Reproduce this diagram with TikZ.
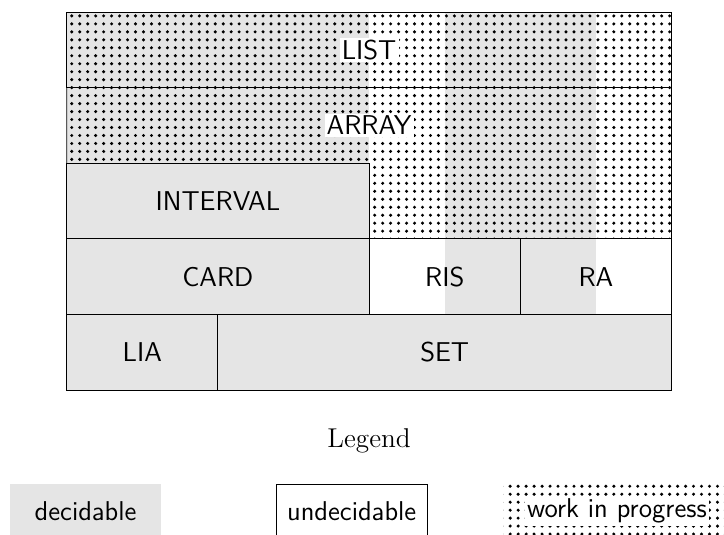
\documentclass[tikz,border=0pt]{standalone}
\usepackage{tikz}
\usetikzlibrary{positioning}
\usetikzlibrary{patterns.meta}
\usetikzlibrary{backgrounds}
\colorlet{decgray}{gray!20}
\newcommand{\cellfont}{\fontsize{12.8}{15.4}\selectfont}
\tikzdeclarepattern{
	name=wipdots,
	type=uncolored,
	bounding box={(-1.875pt,-1.875pt) and (1.875pt,1.875pt)},
	tile size={(3.75pt,3.75pt)},
	code={\fill (0pt,0pt) circle (0.8pt);}
}
\tikzset{cell/.style={rectangle,draw,minimum width=2.5cm,minimum height=1.25cm,inner sep=0pt,outer sep=0pt,font=\cellfont\sffamily},}
\tikzset{tag/.style={fill=white,inner sep=1pt,font=\cellfont\sffamily},}
\tikzset{legbox/.style={rectangle,minimum width=2.5cm,minimum height=0.9cm,inner sep=0pt,outer sep=0pt,font=\cellfont\sffamily},}

\begin{document}
\begin{tikzpicture}[x=1.25cm, y=1.25cm, node distance=0pt]
	\useasboundingbox (-0.882,-1.905) rectangle (8.694,5.159);

	\node[cell, minimum width=10cm] (list) at (4,4.5) {};
	\node[cell, minimum width=5cm] (card) at (2,1.5) {CARD};
	\node[cell] (ris) [right = of card] {RIS};
	\node[cell] (ra) [right = of ris] {RA};
	\node[cell, minimum width=5cm] (interval) [above = of card] {INTERVAL};
	\node[cell] (lia) [below right = 0pt and 0pt of card.south west] {LIA};
	\node[cell, minimum width=7.5cm] (set) [right = of lia] {SET};
	\node[tag] (listlabel) at (list) {LIST};
	\node[tag] (arraylabel) at (4,3.5) {ARRAY};

	\draw (interval.north west) -- (list.south west);
	\draw (ra.north east) -- (list.south east);

	\begin{scope}[on background layer]
		\fill[decgray] (list.north west) rectangle (card.south east);
		\fill[decgray] (list.north -| ris) rectangle (ra.south);
		\fill[decgray] (lia.north west) rectangle (set.south east);
		\fill[pattern=wipdots] (list.north west) -- (list.north east) -- (ra.north east)
			-- (ris.north west) -- (interval.north east) -- (interval.north west) -- cycle;
	\end{scope}

	% legend
	\node[font=\cellfont, anchor=base] (legend) at (4,-0.754) {Legend};
	\node[legbox, fill=decgray] (dec) at (0.25,-1.603) {decidable};
	\node[legbox, draw] (undec) [right = 1.9cm of dec] {undecidable};
	\node[legbox, pattern=wipdots, minimum width=3.75cm] (wip) [right = 1.26cm of undec] {};
	\node[tag] (wiplabel) at (wip) {work in progress};
\end{tikzpicture}
\end{document}
